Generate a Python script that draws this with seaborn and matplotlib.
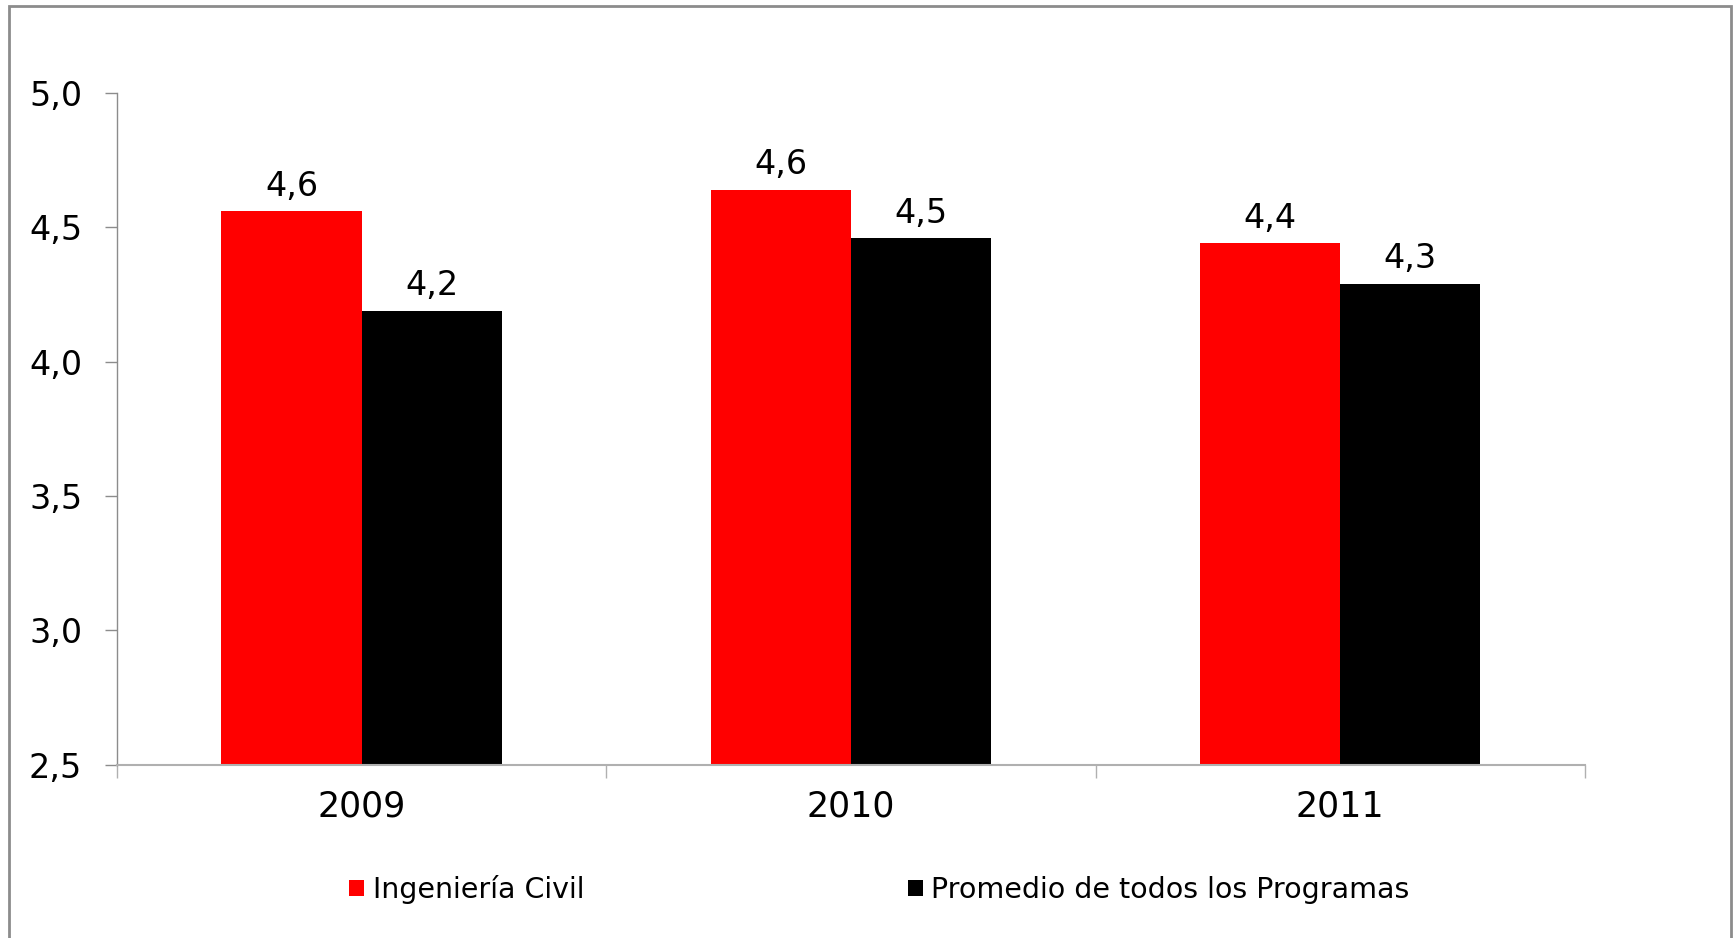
import pandas as pd
import matplotlib.pyplot as plt
import seaborn as sns
from matplotlib.patches import Patch, Rectangle

# Dane
years = ["2009", "2010", "2011"]
series = ["Ingeniería Civil", "Promedio de todos los Programas"]
ing_civil = [4.56, 4.64, 4.44]
promedio = [4.19, 4.46, 4.29]
y_ticks = [2.5, 3.0, 3.5, 4.0, 4.5, 5.0]
colors = ["#ff0000", "#000000"]

df = pd.DataFrame({
    "year": years * 2,
    "serie": [series[0]] * 3 + [series[1]] * 3,
    "value": ing_civil + promedio,
})

sns.set_theme(style="white")
plt.rcParams["font.family"] = ["DejaVu Sans"]
plt.rcParams["text.color"] = "black"

fig = plt.figure(figsize=(17.35, 9.38), dpi=100)
ax = fig.add_axes([0.0674, 0.1849, 0.9135 - 0.0674, 0.9009 - 0.1849])

sns.barplot(data=df, x="year", y="value", hue="serie", palette=colors,
            saturation=1, width=0.573, linewidth=0, ax=ax, legend=False)

# Etykiety wartości nad słupkami (przecinek dziesiętny)
for cont in ax.containers:
    ax.bar_label(cont, fmt=lambda v: f"{v:.1f}".replace(".", ","),
                 fontsize=24, padding=6, color="black")

ax.set_ylim(2.5, 5.0)
ax.set_xlim(-0.5, 2.5)
ax.set_yticks(y_ticks)
ax.set_yticklabels([f"{t:.1f}".replace(".", ",") for t in y_ticks], fontsize=24)
ax.set_xticks(range(len(years)))
ax.set_xticklabels(years, fontsize=25)
ax.set_xticks([-0.5, 0.5, 1.5, 2.5], minor=True)
ax.set_xlabel("")
ax.set_ylabel("")

ax.tick_params(axis="y", which="major", direction="out", length=9, width=1,
               color="#8c8c8c", pad=16, left=True, labelcolor="black")
ax.tick_params(axis="x", which="major", length=0, pad=18, labelcolor="black")
ax.tick_params(axis="x", which="minor", direction="out", length=9, width=1,
               color="#b0b0b0", bottom=True)

for s in ["top", "right"]:
    ax.spines[s].set_visible(False)
ax.spines["left"].set_color("#8c8c8c")
ax.spines["bottom"].set_color("#b0b0b0")
ax.spines["left"].set_linewidth(1)
ax.spines["bottom"].set_linewidth(1.5)

# Legenda
handles = [Patch(facecolor=c, edgecolor="none") for c in colors]
leg = fig.legend(handles, series, loc="center left", bbox_to_anchor=(349 / 1735, 0.0517),
                 ncol=2, frameon=False, fontsize=20.5, handlelength=0.53, handleheight=0.53,
                 handletextpad=0.3, columnspacing=11.37, borderpad=0, borderaxespad=0)
for t in leg.get_texts():
    t.set_color("black")

# Ramka wokół wykresu
fig.patches.append(Rectangle((9 / 1735, -0.05), (1731 - 9) / 1735, 1.05 - 6 / 938,
                             transform=fig.transFigure, fill=False,
                             edgecolor="#8c8c8c", linewidth=2))

fig.savefig("out.png", dpi=100)
